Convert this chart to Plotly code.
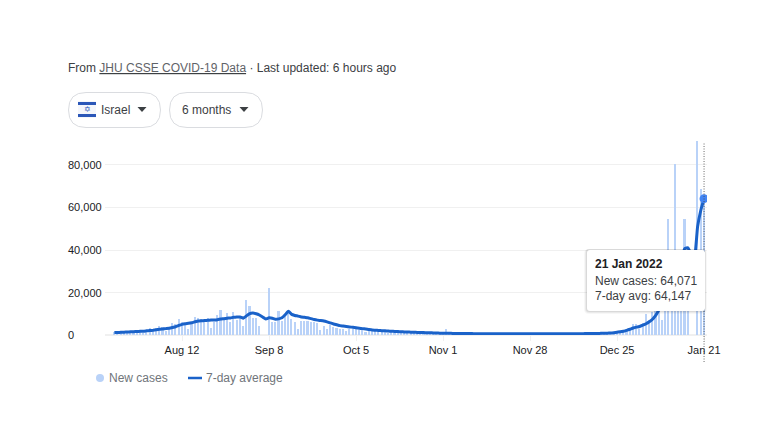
#!/usr/bin/env python3
"""Israel daily COVID cases, 6 month view, laid out like the search result card."""

import pandas as pd
import plotly.graph_objects as go

W, H = 781, 443

# daily new cases, by month
cases_jul = [1300, 1350, 600, 1100, 1500, 1600, 1800, 1900, 1950, 900]
cases_aug = [2200, 3300, 2900, 3200, 4200, 3600, 1700, 3300, 5650, 5200, 7500, 6000, 5300, 2700, 5000, 8500,
             8200, 7600, 7000, 8000, 3500, 6000, 9500, 11800, 8000, 10400, 6000, 11000, 7000, 9000, 4400]
cases_sep = [16500, 13800, 7900, 7900, 4400, 0, 0, 22000, 6000, 6000, 11100, 6800, 9100, 10700, 7500,
             6000, 2800, 6700, 6700, 6400, 6000, 6000, 5500, 2400, 4400, 2800, 4500, 3800, 3400, 2600]
cases_oct = [2900, 2000, 2600, 2900, 2800, 2500, 2300, 1200, 2100, 2300, 2100, 1900, 1800, 1600, 800,
             1400, 1500, 1400, 1300, 1200, 1100, 600, 1000, 1100, 1000, 1000, 900, 800, 500, 700, 900]
cases_nov = [800, 2600, 800, 700, 600, 350, 600, 700, 650, 600, 600, 550, 300, 550, 600, 600, 600, 550,
             500, 300, 500, 600, 600, 600, 550, 500, 300, 550, 600, 600]
cases_dec = [600, 600, 550, 350, 550, 600, 650, 650, 600, 550, 350, 600, 700, 750, 700, 700, 650, 400,
             700, 850, 900, 950, 1000, 950, 800, 1500, 2000, 2600, 3300, 5400, 5000]
cases_jan = [3000, 5500, 9800, 7000, 11000, 12000, 15000, 7000, 19000, 54400, 36000, 80300, 38000, 40000,
             54400, 30000, 0, 0, 91200, 68600, 64071]

# 7-day average, by month
avg_jul = [1150, 1200, 1250, 1320, 1400, 1480, 1560, 1650, 1730, 1800]
avg_aug = [1950, 2100, 2250, 2450, 2680, 2850, 3000, 3150, 3500, 3900, 4500, 5000, 5300, 5500, 5800, 6200,
           6580, 6700, 6800, 6900, 7000, 7050, 7200, 7500, 7700, 7900, 8050, 8300, 8460, 8500, 7900]
avg_sep = [9000, 10100, 10300, 10000, 9400, 8500, 7500, 8100, 7900, 7400, 7600, 8100, 9500, 11200, 9700,
           9200, 8900, 8500, 8300, 8100, 7700, 7300, 7000, 6800, 6580, 6200, 5700, 5200, 4800, 4400]
avg_oct = [4200, 4000, 3800, 3600, 3400, 3200, 3000, 2800, 2550, 2350, 2250, 2150, 2050, 1950, 1850, 1750,
           1680, 1600, 1520, 1460, 1400, 1340, 1280, 1230, 1180, 1130, 1080, 1030, 980, 930, 880]
avg_nov = [800, 800, 780, 760, 740, 720, 700, 680, 660, 650, 640, 630, 620, 610, 600, 600, 590, 590, 580,
           570, 570, 560, 560, 560, 550, 550, 550, 550, 550, 550]
avg_dec = [560, 560, 560, 570, 570, 570, 580, 590, 590, 600, 610, 620, 630, 640, 650, 660, 680, 700, 730,
           770, 820, 880, 950, 1100, 1300, 1500, 1800, 2200, 2700, 3300, 3700]
avg_jan = [4000, 4600, 5300, 6250, 7400, 9200, 11750, 14000, 17000, 20000, 24000, 28000, 32000, 36000,
           40700, 41000, 38000, 36000, 51000, 58700, 64147]

new_cases = cases_jul + cases_aug + cases_sep + cases_oct + cases_nov + cases_dec + cases_jan
seven_day = avg_jul + avg_aug + avg_sep + avg_oct + avg_nov + avg_dec + avg_jan
dates = pd.date_range("2021-07-22", periods=len(new_cases), freq="D")

x_ticks = ["2021-08-12", "2021-09-08", "2021-10-05", "2021-11-01", "2021-11-28", "2021-12-25", "2022-01-21"]
x_labels = ["Aug 12", "Sep 8", "Oct 5", "Nov 1", "Nov 28", "Dec 25", "Jan 21"]
y_ticks = [0, 20000, 40000, 60000, 80000]

FONT = "Liberation Sans, Arial, sans-serif"
GRID = "#f0f0f0"
TEXT = "#3c4043"
MUTED = "#70757a"
BAR = "#b9d2f8"
LINE = "#1a62c9"
DOT = "#4285f4"
FLAG = "#2b57b8"
BORDER = "#dadce0"


def px(x):
    return x / W


def py(y):
    return 1 - y / H


def label(x, y, text, size=12, color=TEXT, anchor="left"):
    return dict(x=px(x), y=py(y), xref="paper", yref="paper", text=text, showarrow=False,
                xanchor=anchor, yanchor="middle", font=dict(family=FONT, size=size, color=color))


def rounded(x0, y0, x1, y1, r):
    # rounded box as an svg path, corners given in page pixels
    X0, X1, Y0, Y1 = px(x0), px(x1), py(y0), py(y1)
    rx, ry = r / W, r / H
    return (f"M {X0 + rx} {Y0} L {X1 - rx} {Y0} Q {X1} {Y0} {X1} {Y0 - ry} L {X1} {Y1 + ry} "
            f"Q {X1} {Y1} {X1 - rx} {Y1} L {X0 + rx} {Y1} Q {X0} {Y1} {X0} {Y1 + ry} "
            f"L {X0} {Y0 - ry} Q {X0} {Y0} {X0 + rx} {Y0} Z")


def box(x0, y0, x1, y1, r, fill="white", line=None, width=1):
    return dict(type="path", xref="paper", yref="paper", path=rounded(x0, y0, x1, y1, r),
                fillcolor=fill, line=dict(color=line or "rgba(0,0,0,0)", width=width))


def rect(x0, y0, x1, y1, fill):
    return dict(type="rect", xref="paper", yref="paper", x0=px(x0), x1=px(x1), y0=py(y1), y1=py(y0),
                fillcolor=fill, line=dict(width=0))


def caret(cx, cy):
    return dict(type="path", xref="paper", yref="paper", fillcolor="#3c4043", line=dict(width=0),
                path=f"M {px(cx - 4.5)} {py(cy - 2)} L {px(cx + 4.5)} {py(cy - 2)} L {px(cx)} {py(cy + 3)} Z")


fig = go.Figure()
fig.add_trace(go.Bar(x=dates, y=new_cases, name="New cases", marker=dict(color=BAR, line=dict(width=0)),
                     width=0.5 * 86400000))
fig.add_trace(go.Scatter(x=dates, y=seven_day, mode="lines", name="7-day average",
                         line=dict(color=LINE, width=3, shape="spline", smoothing=0.4)))
fig.add_trace(go.Scatter(x=dates[-1:], y=seven_day[-1:], mode="markers", name="Selected",
                         marker=dict(color=DOT, size=9)))

shapes = [
    # filter pills
    box(68.5, 92.5, 160.5, 127.5, 17.5, line=BORDER),
    box(169.5, 92.5, 262.5, 127.5, 17.5, line=BORDER),
    rect(78, 101, 96, 118, "#f4f6fb"),
    rect(78, 102, 96, 105, FLAG),
    rect(78, 114, 96, 117, FLAG),
    caret(142, 109),
    caret(244, 109),
    # hover line for the last day
    dict(type="line", xref="x", yref="paper", x0=dates[-1], x1=dates[-1], y0=py(362), y1=py(142),
         line=dict(color="#444444", width=0.8, dash="1px,1.5px")),
    # tooltip with a soft shadow
    box(584, 249, 707, 314, 5, fill="rgba(0,0,0,0.03)"),
    box(585, 249, 706, 313, 4, fill="rgba(0,0,0,0.05)"),
    box(586, 249, 705.5, 312, 3, fill="rgba(0,0,0,0.07)"),
    box(587, 250, 705, 311, 3),
    # legend keys
    dict(type="circle", xref="paper", yref="paper", x0=px(96), x1=px(104), y0=py(382), y1=py(374),
         fillcolor=BAR, line=dict(width=0)),
    dict(type="line", xref="paper", yref="paper", x0=px(188), x1=px(202), y0=py(378), y1=py(378),
         line=dict(color=LINE, width=2.5)),
]

annotations = [
    label(66, 67.5, "From <u><span style='color:#5f6368'>JHU CSSE COVID-19 Data</span></u> · Last updated: 6 hours ago"),
    label(87, 109, "✡", size=8, color=FLAG, anchor="center"),
    label(99, 110, "Israel"),
    label(180, 110, "6 months"),
    label(593, 264, "<b>21 Jan 2022</b>", color="#202124"),
    label(593, 281, f"New cases: {new_cases[-1]:,}"),
    label(593, 296, f"7-day avg: {seven_day[-1]:,}"),
    label(107, 378, "New cases", color=MUTED),
    label(204, 378, "7-day average", color=MUTED),
]
# y labels sit left-aligned, away from the axis
for v in y_ticks:
    annotations.append(dict(x=px(66), y=v, xref="paper", yref="y", text=f"{v:,}", showarrow=False,
                            xanchor="left", yanchor="middle",
                            font=dict(family=FONT, size=11, color="#202124")))

fig.update_layout(
    width=W, height=H, margin=dict(l=0, r=0, t=0, b=0, autoexpand=False),
    paper_bgcolor="white", plot_bgcolor="white", showlegend=False, bargap=0,
    shapes=shapes, annotations=annotations,
    xaxis=dict(domain=[px(105), px(707)], type="date",
               range=["2021-07-19 02:00", "2022-01-21 22:00"],
               tickmode="array", tickvals=x_ticks, ticktext=x_labels,
               ticks="outside", ticklen=5, tickcolor=GRID, tickwidth=1,
               tickfont=dict(family=FONT, size=11, color="#202124"),
               showgrid=False, showline=False, zeroline=False),
    yaxis=dict(domain=[py(335), py(140)], range=[0, 91760], tickmode="array", tickvals=y_ticks,
               showticklabels=False, showgrid=True, gridcolor=GRID, gridwidth=1,
               zeroline=True, zerolinecolor=GRID, showline=False),
)

fig.write_html("out.html", config=dict(displayModeBar=False),
               post_script="document.body.style.margin='0';")
